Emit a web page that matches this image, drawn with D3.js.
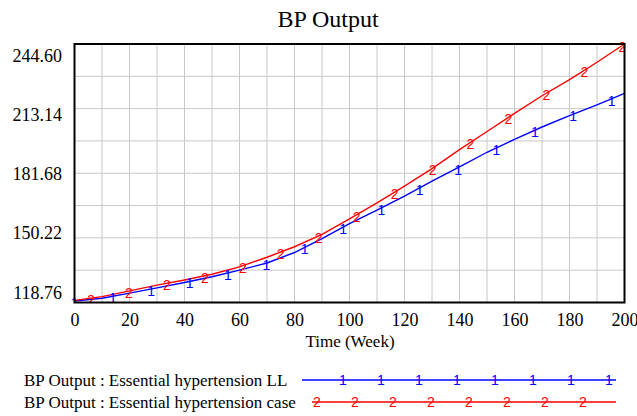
<!DOCTYPE html>
<html>
<head>
<meta charset="utf-8">
<script src="https://cdn.jsdelivr.net/npm/d3@7"></script>
<style>
  html, body { margin: 0; padding: 0; background: #fff; }
  svg { display: block; }
  .serif { font-family: "Liberation Serif", "Times New Roman", serif; fill: #000; }
  .mark { font-family: "Liberation Sans", Arial, sans-serif; }
</style>
</head>
<body>
<svg id="chart" width="637" height="416"></svg>
<script>
// Simulation time (weeks)
const weeks = [0, 10, 20, 30, 40, 50, 60, 70, 80, 90, 100,
               110, 120, 130, 140, 150, 160, 170, 180, 190, 200];

// BP Output : Essential hypertension LL
const bpLL = [119.5, 120.8, 123.3, 125.9, 128.5, 131.3, 134.5, 138.0, 143.1, 149.8, 157.1,
              163.7, 170.5, 177.8, 184.8, 191.9, 198.2, 204.2, 209.7, 215.0, 220.6];

// BP Output : Essential hypertension case
const bpCase = [119.8, 121.6, 124.4, 127.2, 129.7, 132.5, 136.1, 140.8, 145.9, 151.9, 159.5,
                167.3, 175.4, 183.9, 193.2, 202.0, 210.8, 219.4, 227.3, 235.7, 244.6];

const yTickLabels = ["244.60", "213.14", "181.68", "150.22", "118.76"];
const xTicks = [0, 20, 40, 60, 80, 100, 120, 140, 160, 180, 200];

const seriesNames = ["BP Output : Essential hypertension LL",
                     "BP Output : Essential hypertension case"];
const seriesColors = ["#0000ff", "#ff0000"];
const seriesMarks = ["1", "2"];

const SERIF = '"Liberation Serif", "Times New Roman", serif';
const svg = d3.select("#chart");
const plot = { left: 74.5, right: 624.5, top: 44, bottom: 302.5 };

const yMin = +yTickLabels[yTickLabels.length - 1];
const yMax = +yTickLabels[0];

const x = d3.scaleLinear().domain([0, 200]).range([plot.left, plot.right]);
const y = d3.scaleLinear().domain([yMin, yMax]).range([plot.bottom, plot.top]);

// Title
svg.append("text")
  .attr("class", "serif")
  .attr("x", 328).attr("y", 27)
  .attr("text-anchor", "middle")
  .style("font-family", SERIF)
  .style("font-size", "24px")
  .text("BP Output");

// Grid: vertical every 10 weeks, horizontal at half-steps between labels
const g = svg.append("g");
const xGrid = d3.range(10, 200, 10);
g.selectAll("line.vg").data(xGrid).enter().append("line")
  .attr("x1", d => x(d)).attr("x2", d => x(d))
  .attr("y1", plot.top).attr("y2", plot.bottom)
  .attr("stroke", "#c8c8c8").attr("stroke-width", 1);

const yStep = (yMax - yMin) / 8;
const yGrid = d3.range(1, 8).map(i => yMin + i * yStep);
g.selectAll("line.hg").data(yGrid).enter().append("line")
  .attr("x1", plot.left).attr("x2", plot.right)
  .attr("y1", d => y(d)).attr("y2", d => y(d))
  .attr("stroke", "#c8c8c8").attr("stroke-width", 1);

// X axis tick labels
const xAxis = d3.axisBottom(x).tickValues(xTicks).tickSize(0).tickPadding(0)
  .tickFormat(d3.format("d"));
const xa = svg.append("g").attr("transform", `translate(0,${plot.bottom})`).call(xAxis);
xa.select(".domain").remove();
xa.attr("font-family", null).attr("font-size", null);
xa.selectAll("text")
  .attr("y", 23).attr("dy", null)
  .style("font-family", SERIF)
  .style("font-size", "18px").attr("fill", "#000");

// Axis title
svg.append("text")
  .attr("class", "serif")
  .attr("x", 350).attr("y", 347)
  .attr("text-anchor", "middle")
  .style("font-family", SERIF)
  .style("font-size", "17px")
  .text("Time (Week)");

// Y labels, spread across the axis height
const labelPos = d3.scaleLinear().domain([0, yTickLabels.length - 1]).range([61.5, 298.5]);
svg.selectAll("text.yl").data(yTickLabels).enter().append("text")
  .attr("class", "serif yl")
  .attr("x", 62).attr("y", (d, i) => labelPos(i))
  .attr("text-anchor", "end")
  .style("font-family", SERIF)
  .style("font-size", "18px")
  .text(d => d);

// Series lines
const seriesData = [bpLL, bpCase];
const line = d3.line().x((d, i) => x(weeks[i])).y(d => y(d));
svg.append("clipPath").attr("id", "plotclip")
  .append("rect")
  .attr("x", plot.left - 8).attr("y", plot.top - 8)
  .attr("width", plot.right - plot.left + 16).attr("height", plot.bottom - plot.top + 8);

const sg = svg.append("g").attr("clip-path", "url(#plotclip)");
seriesData.forEach((vals, k) => {
  sg.append("path")
    .datum(vals)
    .attr("d", line)
    .attr("fill", "none")
    .attr("stroke", seriesColors[k])
    .attr("stroke-width", 1.4);
});

// Numbered markers placed along each series
function valueAt(vals, t) {
  const i = Math.min(weeks.length - 2, Math.max(0, d3.bisectRight(weeks, t) - 1));
  const f = (t - weeks[i]) / (weeks[i + 1] - weeks[i]);
  return vals[i] + f * (vals[i + 1] - vals[i]);
}
const markerStart = [0, 6];
const markerGap = [13.95, 13.8];
seriesData.forEach((vals, k) => {
  const ts = d3.range(0, 15).map(i => markerStart[k] + i * markerGap[k]).filter(t => t <= 200);
  sg.selectAll(null).data(ts).enter().append("text")
    .attr("class", "mark")
    .attr("x", t => x(t)).attr("y", t => y(valueAt(vals, t)) + 7)
    .attr("text-anchor", "middle")
    .style("font-size", "14px")
    .style("fill", seriesColors[k])
    .text(seriesMarks[k]);
});

// Plot frame
svg.append("rect")
  .attr("x", plot.left).attr("y", plot.top)
  .attr("width", plot.right - plot.left).attr("height", plot.bottom - plot.top)
  .attr("fill", "none").attr("stroke", "#000").attr("stroke-width", 2);

// Legend
const legendRows = [
  { base: 386, lineY: 380, x0: 302, marks: d3.range(8).map(i => 343 + i * 38) },
  { base: 408, lineY: 402, x0: 312, marks: d3.range(8).map(i => 317 + i * 38) }
];
legendRows.forEach((row, k) => {
  svg.append("text")
    .attr("class", "serif")
    .attr("x", 24).attr("y", row.base)
    .style("font-family", SERIF)
    .style("font-size", "17px")
    .text(seriesNames[k]);
  svg.append("line")
    .attr("x1", row.x0).attr("x2", 616)
    .attr("y1", row.lineY).attr("y2", row.lineY)
    .attr("stroke", seriesColors[k]).attr("stroke-width", 1.4);
  svg.selectAll(null).data(row.marks).enter().append("text")
    .attr("class", "mark")
    .attr("x", d => d).attr("y", row.lineY + 5)
    .attr("text-anchor", "middle")
    .style("font-size", "14px")
    .style("fill", seriesColors[k])
    .text(seriesMarks[k]);
});
</script>
</body>
</html>
